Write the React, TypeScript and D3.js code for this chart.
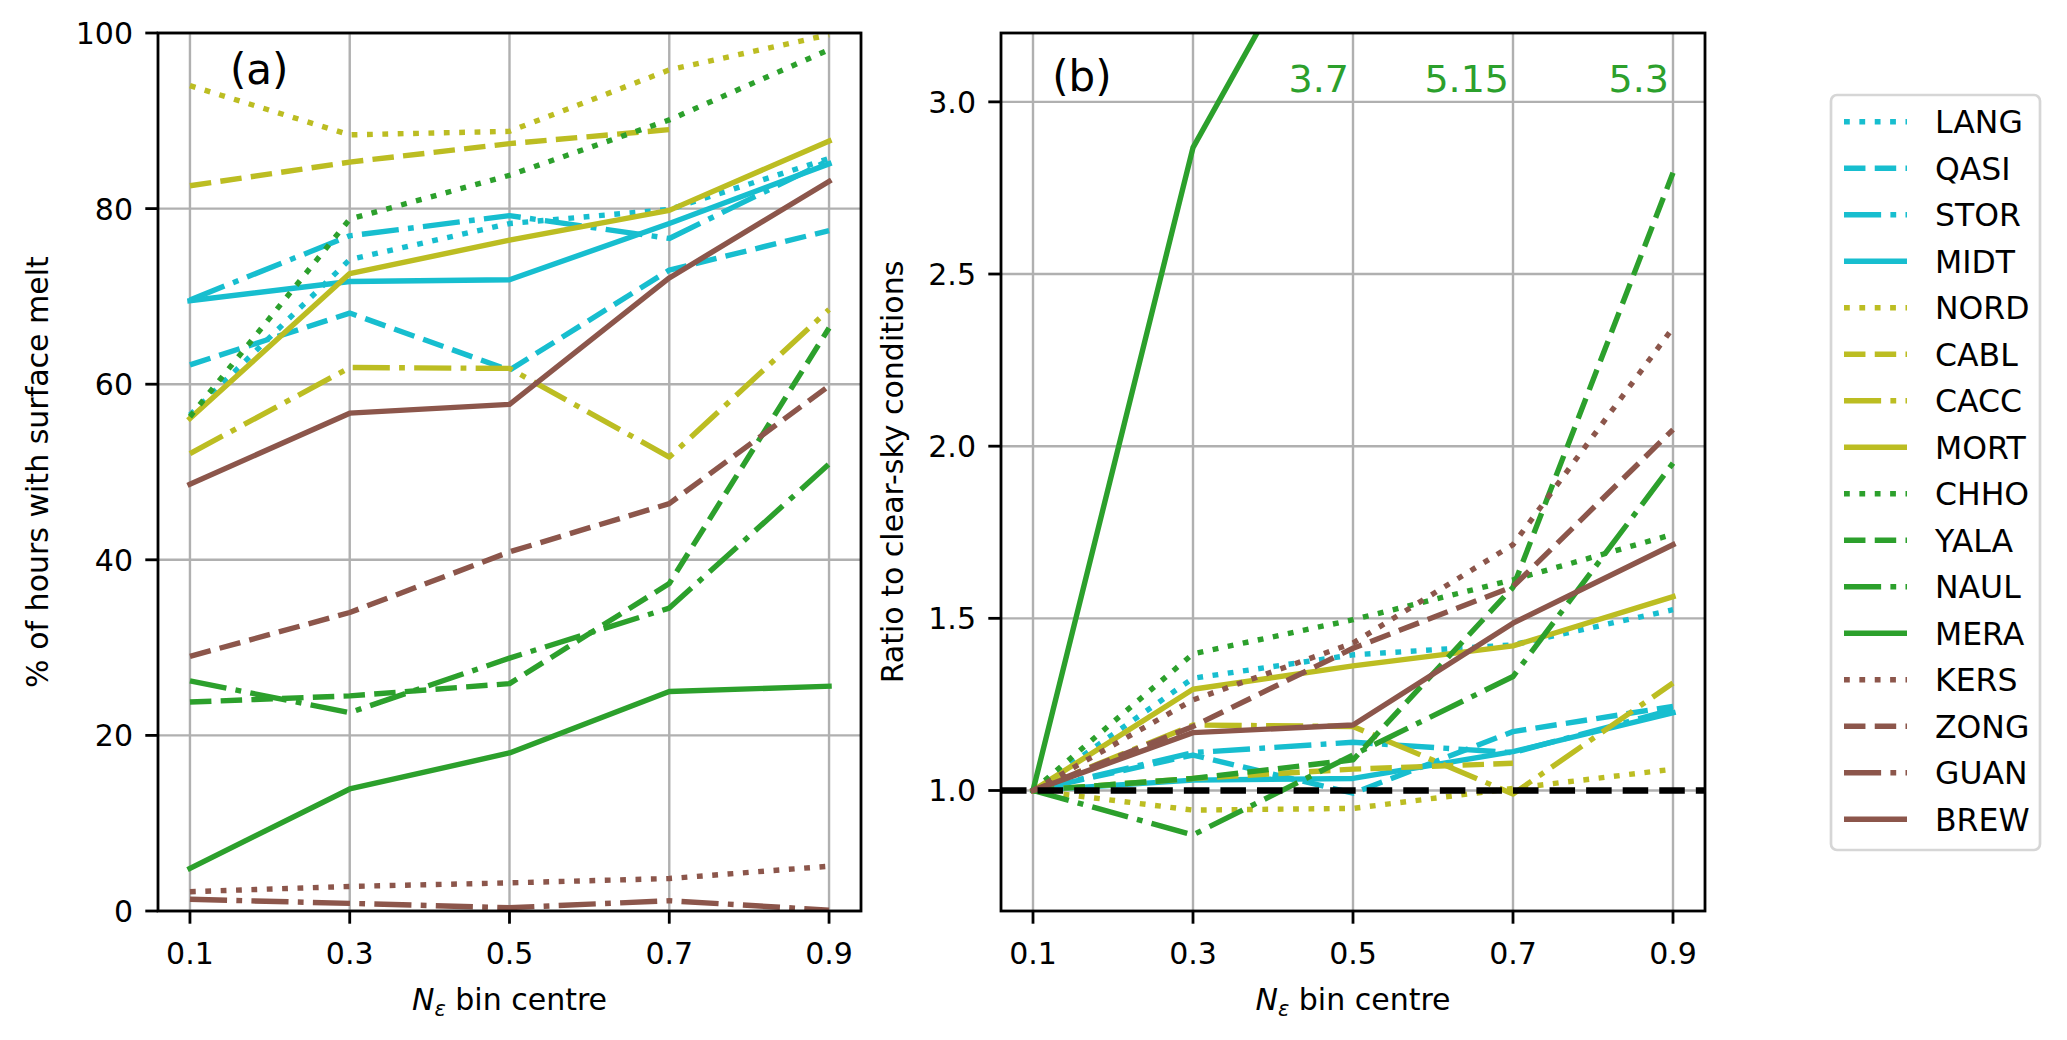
import React, { useRef, useEffect } from 'react'
import * as d3 from 'd3'

// Bin centres of N_eps (x axis, both panels)
const binCentres = [0.1, 0.3, 0.5, 0.7, 0.9]

const stations = [
  'LANG', 'QASI', 'STOR', 'MIDT',
  'NORD', 'CABL', 'CACC', 'MORT',
  'CHHO', 'YALA', 'NAUL', 'MERA',
  'KERS', 'ZONG', 'GUAN', 'BREW',
]

// (a) % of hours with surface melt, one row per station (null = no data)
const meltPercent: (number | null)[][] = [
  [56.5, 74.2, 78.3, 79.9, 85.7], // LANG
  [62.2, 68.1, 61.6, 73.0, 77.5], // QASI
  [69.6, 76.9, 79.2, 76.6, 85.5], // STOR
  [69.5, 71.7, 71.9, 78.3, 85.1], // MIDT
  [94.0, 88.4, 88.8, 95.8, 99.8], // NORD
  [82.6, 85.3, 87.4, 89.0, null], // CABL
  [52.1, 61.9, 61.8, 51.7, 68.5], // CACC
  [56.1, 72.6, 76.4, 79.8, 87.7], // MORT
  [56.3, 78.8, 83.8, 90.1, 98.1], // CHHO
  [23.8, 24.5, 25.9, 37.3, 66.4], // YALA
  [26.2, 22.6, 28.8, 34.5, 50.9], // NAUL
  [4.85, 13.9, 18.0, 25.0, 25.6], // MERA
  [2.2, 2.8, 3.2, 3.7, 5.1], // KERS
  [29.0, 34.0, 40.9, 46.4, 59.8], // ZONG
  [1.33, 0.87, 0.38, 1.17, 0.1], // GUAN
  [48.6, 56.7, 57.7, 72.1, 83.1], // BREW
]

// (b) ratio to clear-sky conditions
const ratioClearSky: (number | null)[][] = [
  [1, 1.326, 1.394, 1.423, 1.525], // LANG
  [1, 1.103, 0.992, 1.171, 1.244], // QASI
  [1, 1.11, 1.14, 1.11, 1.235], // STOR
  [1, 1.03, 1.035, 1.113, 1.226], // MIDT
  [1, 0.943, 0.948, 1.006, 1.062], // NORD
  [1, 1.035, 1.062, 1.079, null], // CABL
  [1, 1.19, 1.186, 0.99, 1.312], // CACC
  [1, 1.294, 1.362, 1.42, 1.563], // MORT
  [1, 1.397, 1.496, 1.612, 1.744], // CHHO
  [1, 1.035, 1.089, 1.59, 2.794], // YALA
  [1, 0.871, 1.103, 1.331, 1.951], // NAUL
  [1, 2.867, 3.7, 5.15, 5.3], // MERA
  [1, 1.263, 1.428, 1.714, 2.344], // KERS
  [1, 1.186, 1.413, 1.592, 2.048], // ZONG
  [null, null, null, null, null], // GUAN (not shown)
  [1, 1.168, 1.19, 1.486, 1.714], // BREW
]

const meltTicks = [0, 20, 40, 60, 80, 100]
const ratioTicks = [1.0, 1.5, 2.0, 2.5, 3.0]

// off-scale MERA values written at the top of (b)
const offScaleBins = [0.5, 0.7, 0.9]
const offScaleText = ['3.7', '5.15', '5.3']

// styles
const stationColors = [
  '#17becf', '#17becf', '#17becf', '#17becf',
  '#bcbd22', '#bcbd22', '#bcbd22', '#bcbd22',
  '#2ca02c', '#2ca02c', '#2ca02c', '#2ca02c',
  '#8c564b', '#8c564b', '#8c564b', '#8c564b',
]
const stationStyles = ['dotted', 'dashed', 'dashdot', 'solid']

const W = 2067
const H = 1040
const FONT = '"DejaVu Sans", Verdana, sans-serif'
const LW = 5.4
const U = 5.8 // dash unit (matplotlib scales dashes with line width)
const dashFor = (style: string, u = U) => {
  if (style === 'dotted') return `${u} ${1.65 * u}`
  if (style === 'dashed') return `${3.7 * u} ${1.6 * u}`
  if (style === 'dashdot') return `${6.4 * u} ${1.6 * u} ${u} ${1.6 * u}`
  return null
}

interface PanelConfig {
  id: string
  left: number
  right: number
  top: number
  bottom: number
  yDomain: [number, number]
  yTicks: number[]
  yFormat: (v: number) => string
  values: (number | null)[][]
  yLabel: string
  yLabelX: number
  panelLabel: string
  panelLabelPos: [number, number]
  refLine?: number
}

const drawPanel = (svg: d3.Selection<SVGSVGElement, unknown, null, undefined>, cfg: PanelConfig) => {
  const x = d3.scaleLinear().domain([0.06, 0.94]).range([cfg.left, cfg.right])
  const y = d3.scaleLinear().domain(cfg.yDomain).range([cfg.bottom, cfg.top])

  svg
    .append('defs')
    .append('clipPath')
    .attr('id', `clip-${cfg.id}`)
    .append('rect')
    .attr('x', cfg.left)
    .attr('y', cfg.top)
    .attr('width', cfg.right - cfg.left)
    .attr('height', cfg.bottom - cfg.top)

  const g = svg.append('g').attr('class', `panel-${cfg.id}`)

  // grid
  const grid = g.append('g').attr('class', 'grid')
  binCentres.forEach(t => {
    grid
      .append('line')
      .attr('x1', x(t))
      .attr('x2', x(t))
      .attr('y1', cfg.top)
      .attr('y2', cfg.bottom)
      .attr('stroke', '#b0b0b0')
      .attr('stroke-width', 2.4)
  })
  cfg.yTicks.forEach(t => {
    grid
      .append('line')
      .attr('x1', cfg.left)
      .attr('x2', cfg.right)
      .attr('y1', y(t))
      .attr('y2', y(t))
      .attr('stroke', '#b0b0b0')
      .attr('stroke-width', 2.4)
  })

  // series
  const line = d3
    .line<number | null>()
    .defined(d => d != null)
    .x((_d, i) => x(binCentres[i]))
    .y(d => y(d as number))

  const series = g.append('g').attr('clip-path', `url(#clip-${cfg.id})`)
  cfg.values.forEach((row, i) => {
    const style = stationStyles[i % 4]
    const dash = dashFor(style)
    const p = series
      .append('path')
      .datum(row)
      .attr('d', line)
      .attr('fill', 'none')
      .attr('stroke', stationColors[i])
      .attr('stroke-width', LW)
      .attr('stroke-linejoin', 'round')
      .attr('stroke-linecap', dash ? 'butt' : 'square')
    if (dash) p.attr('stroke-dasharray', dash)
  })

  if (cfg.refLine != null) {
    series
      .append('line')
      .attr('x1', cfg.left)
      .attr('x2', cfg.right)
      .attr('y1', y(cfg.refLine))
      .attr('y2', y(cfg.refLine))
      .attr('stroke', '#000')
      .attr('stroke-width', 6.4)
      .attr('stroke-dasharray', dashFor('dashed', 6.9) as string)
  }

  // spines
  g.append('rect')
    .attr('x', cfg.left)
    .attr('y', cfg.top)
    .attr('width', cfg.right - cfg.left)
    .attr('height', cfg.bottom - cfg.top)
    .attr('fill', 'none')
    .attr('stroke', '#000')
    .attr('stroke-width', 2.8)

  // ticks + labels
  binCentres.forEach(t => {
    g.append('line')
      .attr('x1', x(t))
      .attr('x2', x(t))
      .attr('y1', cfg.bottom)
      .attr('y2', cfg.bottom + 12.7)
      .attr('stroke', '#000')
      .attr('stroke-width', 2.8)
    g.append('text')
      .attr('x', x(t))
      .attr('y', 964)
      .attr('text-anchor', 'middle')
      .style('font-family', FONT)
      .style('font-size', '30px')
      .style('fill', '#000')
      .text(d3.format('.1f')(t))
  })
  cfg.yTicks.forEach(t => {
    g.append('line')
      .attr('x1', cfg.left - 12.7)
      .attr('x2', cfg.left)
      .attr('y1', y(t))
      .attr('y2', y(t))
      .attr('stroke', '#000')
      .attr('stroke-width', 2.8)
    g.append('text')
      .attr('x', cfg.left - 25)
      .attr('y', y(t) + 11)
      .attr('text-anchor', 'end')
      .style('font-family', FONT)
      .style('font-size', '30px')
      .style('fill', '#000')
      .text(cfg.yFormat(t))
  })

  // axis labels
  const xl = g
    .append('text')
    .attr('x', (cfg.left + cfg.right) / 2)
    .attr('y', 1010)
    .attr('text-anchor', 'middle')
    .style('font-family', FONT)
    .style('font-size', '30px')
    .style('fill', '#000')
  xl.append('tspan').style('font-style', 'italic').text('N')
  xl.append('tspan').style('font-style', 'italic').style('font-size', '21px').attr('dy', 6).text('ε')
  xl.append('tspan').attr('dy', -6).text(' bin centre')

  g.append('text')
    .attr('transform', `translate(${cfg.yLabelX}, ${(cfg.top + cfg.bottom) / 2}) rotate(-90)`)
    .attr('text-anchor', 'middle')
    .style('font-family', FONT)
    .style('font-size', '30px')
    .style('fill', '#000')
    .text(cfg.yLabel)

  g.append('text')
    .attr('x', x(cfg.panelLabelPos[0]))
    .attr('y', y(cfg.panelLabelPos[1]))
    .style('font-family', FONT)
    .style('font-size', '42px')
    .style('fill', '#000')
    .text(cfg.panelLabel)

  return { x, y, g }
}

const App: React.FC = () => {
  const svgRef = useRef<SVGSVGElement>(null)

  useEffect(() => {
    if (!svgRef.current) return
    const svg = d3.select(svgRef.current)
    svg.selectAll('*').remove()

    drawPanel(svg, {
      id: 'a',
      left: 158,
      right: 861,
      top: 33,
      bottom: 911,
      yDomain: [0, 100],
      yTicks: meltTicks,
      yFormat: d3.format('d'),
      values: meltPercent,
      yLabel: '% of hours with surface melt',
      yLabelX: 48,
      panelLabel: '(a)',
      panelLabelPos: [0.15, 94.2],
    })

    const b = drawPanel(svg, {
      id: 'b',
      left: 1001,
      right: 1705,
      top: 33,
      bottom: 911,
      yDomain: [0.65, 3.2],
      yTicks: ratioTicks,
      yFormat: d3.format('.1f'),
      values: ratioClearSky,
      yLabel: 'Ratio to clear-sky conditions',
      yLabelX: 903,
      panelLabel: '(b)',
      panelLabelPos: [0.124, 3.033],
      refLine: 1.0,
    })

    offScaleBins.forEach((bin, i) => {
      b.g
        .append('text')
        .attr('x', b.x(bin) - 4)
        .attr('y', b.y(3.028))
        .attr('text-anchor', 'end')
        .style('font-family', FONT)
        .style('font-size', '38px')
        .style('fill', '#2ca02c')
        .text(offScaleText[i])
    })

    // legend
    const legend = svg.append('g').attr('class', 'legend')
    legend
      .append('rect')
      .attr('x', 1831)
      .attr('y', 95)
      .attr('width', 209)
      .attr('height', 755)
      .attr('rx', 6)
      .attr('fill', '#fff')
      .attr('stroke', '#d6d6d6')
      .attr('stroke-width', 2.7)

    stations.forEach((name, i) => {
      const cy = 121.7 + i * 46.5
      const dash = dashFor(stationStyles[i % 4])
      const l = legend
        .append('line')
        .attr('x1', 1844)
        .attr('x2', 1907)
        .attr('y1', cy)
        .attr('y2', cy)
        .attr('stroke', stationColors[i])
        .attr('stroke-width', LW)
        .attr('stroke-linecap', 'butt')
      if (dash) l.attr('stroke-dasharray', dash)
      legend
        .append('text')
        .attr('x', 1935)
        .attr('y', cy + 11.5)
        .style('font-family', FONT)
        .style('font-size', '31.5px')
        .style('fill', '#000')
        .text(name)
    })
  }, [])

  return (
    <div style={{ position: 'absolute', left: 0, top: 0, width: W, height: H, background: '#fff' }}>
      <svg ref={svgRef} width={W} height={H} style={{ display: 'block' }} />
    </div>
  )
}

export default App
